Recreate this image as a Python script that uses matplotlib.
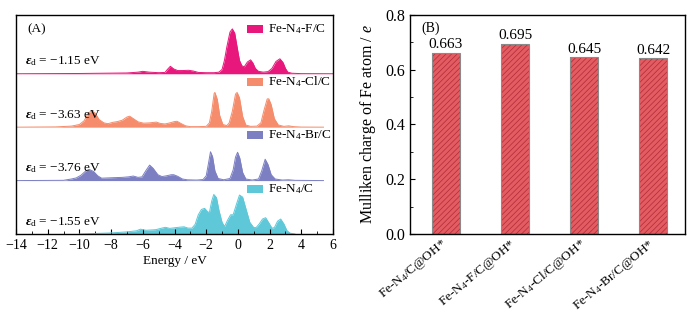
import numpy as np
import matplotlib.pyplot as plt
from matplotlib.patches import Rectangle
from matplotlib.ticker import MultipleLocator

plt.rcParams['font.family'] = ['Liberation Serif', 'DejaVu Serif']
plt.rcParams['mathtext.fontset'] = 'custom'
plt.rcParams['mathtext.rm'] = 'Liberation Serif'
plt.rcParams['mathtext.it'] = 'Liberation Serif:italic'
plt.rcParams['mathtext.bf'] = 'Liberation Serif:bold:italic'
plt.rcParams['hatch.linewidth'] = 0.5

# (A) projected d-DOS of Fe (arbitrary units)
e_f = [-14, -10, -7, -6.3, -6.0, -5.6, -5.0, -4.6, -4.45, -4.26, -4.05, -3.8, -3.5, -3.1, -2.8,
       -2.5, -2.0, -1.5, -1.2, -1.0, -0.85, -0.7, -0.5, -0.35, -0.2, -0.05, 0.1, 0.25, 0.4,
       0.6, 0.8, 0.95, 1.1, 1.3, 1.6, 1.9, 2.15, 2.4, 2.65, 2.85, 3.0, 3.15, 3.4, 4.0, 6.0]
dos_f = [0, 0.05, 0.15, 0.3, 0.45, 0.3, 0.2, 0.25, 0.8, 1.4, 0.9, 0.6, 0.6, 0.65, 0.5,
         0.25, 0.2, 0.2, 0.3, 0.8, 2.5, 5.0, 7.8, 8.4, 7.6, 5.0, 2.5, 1.5, 1.3,
         2.2, 2.6, 2.0, 1.0, 0.45, 0.3, 0.4, 1.0, 2.3, 2.8, 2.1, 1.0, 0.3, 0.1, 0.02, 0]

e_cl = [-14, -11.5, -10.5, -10.0, -9.7, -9.45, -9.22, -9.0, -8.75, -8.45, -8.2, -7.9, -7.6, -7.3,
        -7.0, -6.83, -6.6, -6.3, -5.95, -5.6, -5.3, -5.15, -4.9, -4.6, -4.3, -4.0, -3.84, -3.6,
        -3.3, -3.0, -2.5, -2.0, -1.8, -1.65, -1.5, -1.45, -1.3, -1.15, -0.95, -0.7, -0.55, -0.35,
        -0.15, -0.05, 0.1, 0.3, 0.5, 0.8, 1.2, 1.45, 1.65, 1.85, 1.95, 2.1, 2.3, 2.55, 2.9, 3.2,
        3.5, 4.0, 5.4]
dos_cl = [0, 0.05, 0.2, 0.5, 1.2, 2.6, 3.1, 2.6, 1.4, 0.8, 0.65, 0.9, 1.05, 1.3,
          1.9, 2.05, 1.6, 1.0, 0.75, 0.8, 0.9, 0.95, 0.7, 0.6, 0.8, 1.05, 1.1, 0.7,
          0.25, 0.1, 0.1, 0.15, 0.8, 3.0, 6.3, 6.5, 5.2, 2.2, 0.5, 0.3, 0.8, 3.0,
          6.2, 6.5, 5.5, 2.0, 0.4, 0.15, 0.2, 0.8, 3.2, 5.3, 5.3, 4.2, 1.6, 0.4, 0.15, 0.25,
          0.1, 0.02, 0]

e_br = [-14, -11, -10.5, -10.2, -9.9, -9.6, -9.39, -9.1, -8.85, -8.6, -8.2, -7.8, -7.3, -6.9,
        -6.6, -6.3, -6.05, -5.8, -5.57, -5.35, -5.05, -4.79, -4.5, -4.2, -4.05, -3.8, -3.5,
        -3.2, -2.6, -2.2, -2.0, -1.87, -1.73, -1.6, -1.45, -1.25, -0.9, -0.5, -0.3, -0.15,
        -0.02, 0.12, 0.3, 0.5, 0.9, 1.3, 1.5, 1.72, 1.9, 2.1, 2.35, 2.8, 3.2, 3.6, 5.4]
dos_br = [0, 0.05, 0.3, 0.5, 1.0, 1.8, 2.1, 1.7, 0.9, 0.45, 0.5, 0.55, 0.6, 0.7,
          0.85, 0.6, 0.7, 1.9, 2.9, 2.3, 1.1, 0.75, 0.9, 1.1, 1.1, 0.8, 0.3,
          0.15, 0.1, 0.2, 0.9, 3.0, 5.4, 4.5, 1.8, 0.4, 0.15, 0.4, 2.0, 4.4,
          5.3, 4.2, 1.5, 0.3, 0.1, 0.3, 1.8, 4.0, 3.0, 1.1, 0.3, 0.1, 0.15, 0.05, 0]

e_n4 = [-10, -9.0, -8.0, -7.0, -6.4, -6.15, -5.8, -5.2, -4.8, -4.57, -4.3, -3.9, -3.6, -3.4,
        -3.15, -2.9, -2.7, -2.5, -2.3, -2.1, -1.92, -1.8, -1.65, -1.52, -1.35, -1.2, -1.0,
        -0.84, -0.65, -0.46, -0.3, -0.1, 0.1, 0.3, 0.5, 0.75, 1.0, 1.15, 1.35, 1.55, 1.75,
        1.95, 2.15, 2.3, 2.5, 2.7, 2.9, 3.1, 3.3, 3.6]
dos_n4 = [0, 0.1, 0.2, 0.4, 0.6, 0.9, 0.7, 0.8, 1.1, 1.25, 1.05, 1.2, 1.3, 1.35,
          1.1, 1.1, 1.8, 3.6, 4.6, 4.8, 4.2, 4.0, 6.2, 7.4, 6.8, 4.5, 2.2,
          1.4, 2.6, 3.6, 3.6, 5.5, 7.3, 6.9, 4.8, 2.2, 1.2, 1.2, 1.9, 2.8, 3.05,
          2.1, 1.1, 1.2, 2.4, 2.8, 1.9, 0.6, 0.15, 0.0]

names = ['Fe-N$_4$-F/C', 'Fe-N$_4$-Cl/C', 'Fe-N$_4$-Br/C', 'Fe-N$_4$/C']
eps_d = ['\u22121.15', '\u22123.63', '\u22123.76', '\u22121.55']
colors = ['#e8177c', '#f58c6b', '#7c80c3', '#5ec8d8']
offsets = [30, 20, 10, 0]

# (B) Mulliken charge of Fe
systems = ['Fe-N$_4$/C@OH*', 'Fe-N$_4$-F/C@OH*', 'Fe-N$_4$-Cl/C@OH*', 'Fe-N$_4$-Br/C@OH*']
charges = [0.663, 0.695, 0.645, 0.642]


def plot_dos(ax):
    curves = [(e_f, dos_f), (e_cl, dos_cl), (e_br, dos_br), (e_n4, dos_n4)]
    for (e, d), name, eps, c, off in zip(curves, names, eps_d, colors, offsets):
        e = np.array(e)
        d = np.array(d) + off
        ax.fill_between(e, off, d, color=c, lw=0)
        ax.plot(e, d, color=c, lw=0.7)
        # legend-like box and label
        ax.add_patch(Rectangle((0.6, off + 7.7), 1.0, 1.5, color=c, lw=0))
        ax.text(1.9, off + 8.45, name, fontsize=9.5, va='center', ha='left')
        ax.text(-13.45, off + 2.3, r'$\mathbf{\varepsilon}_\mathrm{d}$ = ' + eps + ' eV',
                fontsize=9.5, va='center', ha='left')
    ax.text(-13.3, 38.4, '(A)', fontsize=9.5, va='center', ha='left')
    ax.set_xlim(-14, 6)
    ax.set_ylim(0, 41)
    ax.xaxis.set_major_locator(MultipleLocator(2))
    ax.xaxis.set_minor_locator(MultipleLocator(1))
    ax.tick_params(axis='x', which='both', direction='in', labelsize=10)
    ax.tick_params(axis='x', which='major', length=3.5)
    ax.tick_params(axis='x', which='minor', length=2)
    ax.set_yticks([])
    ax.set_xlabel('Energy / eV', fontsize=9.5, labelpad=2)
    for s in ax.spines.values():
        s.set_linewidth(1.0)


def plot_charge(ax):
    x = np.arange(len(systems))
    ax.bar(x, charges, width=0.4, color='#e35c62', edgecolor='#b02a38', hatch='//////', lw=0)
    bars = ax.bar(x, charges, width=0.4, fill=False, edgecolor='#8a8a8a', lw=0.8)
    ax.bar_label(bars, labels=['%.3f' % v for v in charges], padding=1, fontsize=11)
    ax.set_xlim(-0.52, 3.46)
    ax.set_ylim(0, 0.8)
    ax.set_xticks(x)
    ax.set_xticklabels(systems, rotation=40, ha='right', va='center',
                       rotation_mode='anchor', fontsize=9.5)
    ax.tick_params(axis='x', length=0, pad=6)
    ax.yaxis.set_major_locator(MultipleLocator(0.2))
    ax.yaxis.set_minor_locator(MultipleLocator(0.1))
    ax.tick_params(axis='y', which='both', direction='in', labelsize=11.5)
    ax.tick_params(axis='y', which='major', length=3.5)
    ax.tick_params(axis='y', which='minor', length=2)
    ax.set_ylabel('Mulliken charge of Fe atom / $e$', fontsize=11.5, labelpad=5)
    ax.text(0.04, 0.94, '(B)', transform=ax.transAxes, fontsize=10, va='center', ha='left')
    for s in ax.spines.values():
        s.set_linewidth(1.0)


def main():
    fig = plt.figure(figsize=(6.94, 3.18), dpi=100)
    ax1 = fig.add_axes([16 / 694, 1 - 234 / 318, 317 / 694, 219 / 318])
    ax2 = fig.add_axes([410 / 694, 1 - 234 / 318, 275 / 694, 219 / 318])
    plot_dos(ax1)
    plot_charge(ax2)
    fig.savefig('out.png', dpi=100)


if __name__ == "__main__":
    main()
